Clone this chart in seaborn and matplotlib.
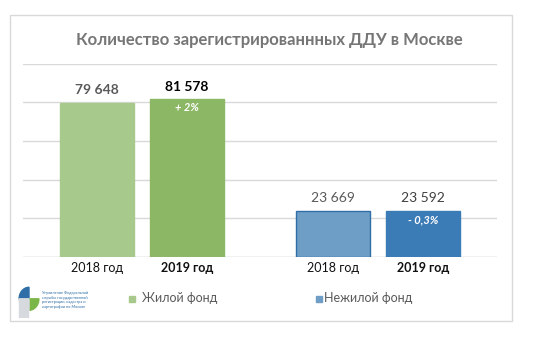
import matplotlib
matplotlib.use("Agg")
import matplotlib.pyplot as plt
import matplotlib.patches as mpatches
import seaborn as sns
import pandas as pd

# data
groups = ["Жилой фонд", "Жилой фонд", "Нежилой фонд", "Нежилой фонд"]
years = ["2018 год", "2019 год", "2018 год", "2019 год"]
values = [79648, 81578, 23669, 23592]
value_labels = ["79 648", "81 578", "23 669", "23 592"]
changes = ["", "+ 2%", "", "- 0,3%"]
positions = [0, 1, 2.62, 3.62]

title = "Количество зарегистрированнных ДДУ в Москве"
logo_text = ("Управление Федеральной\nслужбы государственной\n"
             "регистрации, кадастра и\nкартографии по Москве")

bar_colors = ["#a8c98c", "#8cb865", "#6e9ec6", "#3b7bb6"]
edge_colors = ["#a8c98c", "#8cb865", "#2f6ea6", "#3b7bb6"]

sns.set_theme(style="white")
plt.rcParams["font.family"] = ["Lato", "DejaVu Sans"]

df = pd.DataFrame({"pos": positions, "value": values, "bar": range(4)})

fig = plt.figure(figsize=(5.5, 3.64), dpi=100)
ax = fig.add_axes([0.0418, 0.2953, 0.862, 0.5289])

sns.barplot(data=df, x="pos", y="value", hue="bar", palette=bar_colors,
            saturation=1, native_scale=True, width=0.82, legend=False,
            ax=ax, zorder=3)
for patch, ec in zip(ax.patches, edge_colors):
    patch.set_edgecolor(ec)
    patch.set_linewidth(1.0)

ax.set_xlim(-0.82, 4.44)
ax.set_ylim(0, 100000)
ax.set_yticks(range(0, 100001, 20000))
ax.yaxis.grid(True, color="#d9d9d9", linewidth=1.0, zorder=0)
ax.set_yticklabels([])
ax.tick_params(axis="y", length=0)
for s in ax.spines.values():
    s.set_visible(False)
ax.axhline(0, color="#d9d9d9", linewidth=1.0, zorder=1)

ax.set_xticks(positions)
ax.set_xticklabels(years)
ax.tick_params(axis="x", length=0, pad=4)
for lbl, w in zip(ax.get_xticklabels(), ["normal", "bold", "normal", "bold"]):
    lbl.set_fontsize(9)
    lbl.set_fontweight(w)
    lbl.set_color("#111111")
ax.set_xlabel("")
ax.set_ylabel("")

# value labels
label_colors = ["#595959", "#000000", "#595959", "#404040"]
label_weights = ["bold", "bold", "normal", "normal"]
for x, v, t, c, w in zip(positions, values, value_labels, label_colors, label_weights):
    ax.text(x, v + 3500, t, ha="center", va="bottom", fontsize=10,
            color=c, fontweight=w)

for x, v, t in zip(positions, values, changes):
    if t:
        ax.text(x, v - 1500, t, ha="center", va="top", fontsize=8,
                color="white", fontstyle="italic", fontweight="bold")

# frame and title
fig.patches.append(mpatches.Rectangle((10 / 550, 1 - 321 / 364), 502 / 550, 306 / 364,
                                      transform=fig.transFigure, fill=False,
                                      edgecolor="#d9d9d9", linewidth=1.0))
fig.text(269 / 550, 1 - 40 / 364, title, ha="center", va="center",
         fontsize=12, fontweight="bold", color="#767676")

# legend
fig.patches.append(mpatches.Rectangle((129 / 550, 1 - 302 / 364), 6 / 550, 6 / 364,
                                      transform=fig.transFigure, color=bar_colors[0]))
fig.text(142 / 550, 1 - 298 / 364, "Жилой фонд", ha="left", va="center",
         fontsize=9, color="#595959")
fig.patches.append(mpatches.Rectangle((316 / 550, 1 - 302 / 364), 6 / 550, 6 / 364,
                                      transform=fig.transFigure, color=bar_colors[2]))
fig.text(324 / 550, 1 - 298 / 364, "Нежилой фонд", ha="left", va="center",
         fontsize=9, color="#595959")

# logo
lax = fig.add_axes([18 / 550, 1 - 318 / 364, 22 / 550, 32 / 364])
lax.set_xlim(-1, 1)
lax.set_ylim(-1.5, 1)
lax.axis("off")
lax.add_patch(mpatches.Wedge((0, 0), 0.9, 90, 180, color="#2f6ea6"))
lax.add_patch(mpatches.Wedge((0, 0), 0.9, 270, 360, color="#7ab648"))
lax.add_patch(mpatches.Wedge((0, 0), 0.9, 180, 270, color="#d6d9de"))
lax.add_patch(mpatches.Rectangle((-0.9, -1.5), 0.8, 1.5, color="#d6d9de"))
fig.text(42 / 550, 1 - 300 / 364, logo_text, ha="left", va="center",
         fontsize=2.8, color="#2f6ea6", linespacing=1.3)

fig.savefig("out.png", dpi=100)
